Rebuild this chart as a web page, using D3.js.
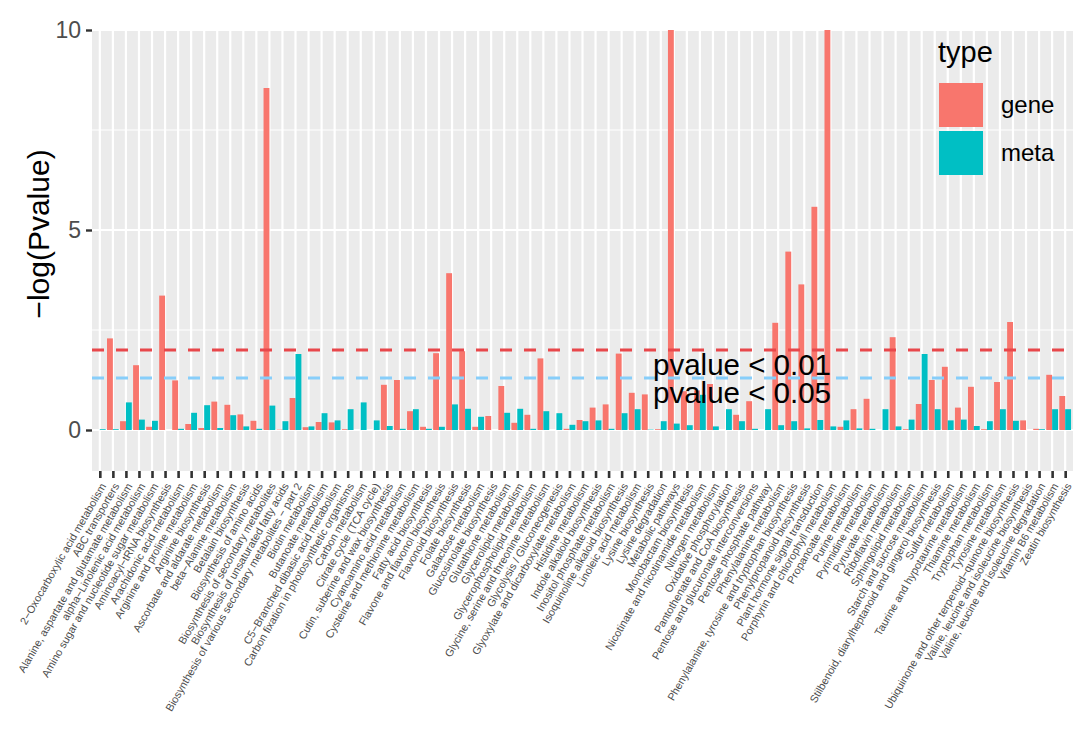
<!DOCTYPE html>
<html>
<head>
<meta charset="utf-8">
<script src="https://cdn.jsdelivr.net/npm/d3@7"></script>
<style>
  body { margin: 0; background: #fff; }
  svg { display: block; font-family: "Liberation Sans", Arial, sans-serif; }
</style>
</head>
<body>
<svg id="chart" width="1084" height="738"></svg>
<script>
var categories = ["2−Oxocarboxylic acid metabolism", "ABC transporters",
    "Alanine, aspartate and glutamate metabolism", "alpha−Linolenic acid metabolism",
    "Amino sugar and nucleotide sugar metabolism", "Aminoacyl−tRNA biosynthesis",
    "Arachidonic acid metabolism", "Arginine and proline metabolism", "Arginine biosynthesis",
    "Ascorbate and aldarate metabolism", "beta−Alanine metabolism", "Betalain biosynthesis",
    "Biosynthesis of amino acids", "Biosynthesis of secondary metabolites",
    "Biosynthesis of unsaturated fatty acids", "Biosynthesis of various secondary metabolites − part 2",
    "Biotin metabolism", "Butanoate metabolism", "C5−Branched dibasic acid metabolism",
    "Carbon fixation in photosynthetic organisms", "Carbon metabolism", "Citrate cycle (TCA cycle)",
    "Cutin, suberine and wax biosynthesis", "Cyanoamino acid metabolism",
    "Cysteine and methionine metabolism", "Fatty acid biosynthesis", "Flavone and flavonol biosynthesis",
    "Flavonoid biosynthesis", "Folate biosynthesis", "Galactose metabolism", "Glucosinolate biosynthesis",
    "Glutathione metabolism", "Glycerolipid metabolism", "Glycerophospholipid metabolism",
    "Glycine, serine and threonine metabolism", "Glycolysis / Gluconeogenesis",
    "Glyoxylate and dicarboxylate metabolism", "Histidine metabolism", "Indole alkaloid biosynthesis",
    "Inositol phosphate metabolism", "Isoquinoline alkaloid biosynthesis", "Linoleic acid metabolism",
    "Lysine biosynthesis", "Lysine degradation", "Metabolic pathways", "Monobactam biosynthesis",
    "Nicotinate and nicotinamide metabolism", "Nitrogen metabolism", "Oxidative phosphorylation",
    "Pantothenate and CoA biosynthesis", "Pentose and glucuronate interconversions",
    "Pentose phosphate pathway", "Phenylalanine metabolism",
    "Phenylalanine, tyrosine and tryptophan biosynthesis", "Phenylpropanoid biosynthesis",
    "Plant hormone signal transduction", "Porphyrin and chlorophyll metabolism", "Propanoate metabolism",
    "Purine metabolism", "Pyrimidine metabolism", "Pyruvate metabolism", "Riboflavin metabolism",
    "Sphingolipid metabolism", "Starch and sucrose metabolism",
    "Stilbenoid, diarylheptanoid and gingerol biosynthesis", "Sulfur metabolism",
    "Taurine and hypotaurine metabolism", "Thiamine metabolism", "Tryptophan metabolism",
    "Tyrosine metabolism", "Ubiquinone and other terpenoid−quinone biosynthesis",
    "Valine, leucine and isoleucine biosynthesis", "Valine, leucine and isoleucine degradation",
    "Vitamin B6 metabolism", "Zeatin biosynthesis"];

var geneValues = [0, 2.29, 0.22, 1.62, 0.08, 3.36, 1.24, 0.15, 0.05, 0.71,
                  0.63, 0.39, 0.23, 8.55, 0.01, 0.80, 0.07, 0.20, 0.19, 0.02,
                  0, 0, 1.13, 1.25, 0.47, 0.08, 1.92, 3.92, 1.97, 0.08,
                  0.35, 1.10, 0.18, 0.38, 1.79, 0, 0.03, 0.25, 0.56, 0.64,
                  1.91, 0.93, 0.89, 0.02, 10, 0.97, 0.99, 1.15, 0, 0.38,
                  0.72, 0, 2.68, 4.46, 3.64, 5.58, 10, 0.08, 0.52, 0.78,
                  0, 2.32, 0.02, 0.65, 1.25, 1.58, 0.56, 1.08, 0.02, 1.20,
                  2.70, 0.24, 0.03, 1.38, 0.85];

var metaValues = [0.02, 0.02, 0.69, 0.26, 0.23, 0, 0.03, 0.43, 0.62, 0.05,
                  0.37, 0.09, 0.03, 0.61, 0.22, 1.90, 0.09, 0.42, 0.24, 0.52,
                  0.69, 0.24, 0.10, 0.03, 0.52, 0.03, 0.08, 0.64, 0.53, 0.33,
                  0, 0.43, 0.53, 0.03, 0.47, 0.42, 0.13, 0.22, 0.24, 0.03,
                  0.42, 0.52, 0.01, 0.22, 0.16, 0.12, 0.88, 0.09, 0.52, 0.22,
                  0.03, 0.52, 0.12, 0.22, 0.04, 0.25, 0.09, 0.24, 0.04, 0.03,
                  0.52, 0.09, 0.26, 1.90, 0.52, 0.24, 0.26, 0.10, 0.22, 0.52,
                  0.23, 0, 0.02, 0.52, 0.52];

var types = ["gene", "meta"];
var yTicks = [0, 5, 10];
var cutoffs = [{value: 2, label: "pvalue < 0.01", color: "#E8474B"},
               {value: 1.3, label: "pvalue < 0.05", color: "#87CEFA"}];

const typeColors = ["#F8766D", "#00BFC4"];

function drawChart() {
    var svg = d3.select("#chart"),
        panel = {left: 92, right: 1073, top: 30, bottom: 471};

    var xScale = d3.scalePoint().domain(categories)
            .range([panel.left, panel.right]).padding(0.6),
        yScale = d3.scaleLinear().domain([-1.025, 10]).range([panel.bottom, panel.top]);

    var step = xScale.step(),
        barW = step * 0.45;

    // panel background and grid
    svg.append("rect")
        .attr("x", panel.left).attr("y", panel.top)
        .attr("width", panel.right - panel.left).attr("height", panel.bottom - panel.top)
        .attr("fill", "#EBEBEB");

    var grid = svg.append("g");
    grid.selectAll(".minor")
        .data([2.5, 7.5])
        .enter().append("line")
        .attr("x1", panel.left).attr("x2", panel.right)
        .attr("y1", function(d) { return yScale(d); })
        .attr("y2", function(d) { return yScale(d); })
        .attr("stroke", "#fff").attr("stroke-width", 1.1);
    grid.selectAll(".major")
        .data(yTicks)
        .enter().append("line")
        .attr("x1", panel.left).attr("x2", panel.right)
        .attr("y1", function(d) { return yScale(d); })
        .attr("y2", function(d) { return yScale(d); })
        .attr("stroke", "#fff").attr("stroke-width", 2.2);
    grid.selectAll(".vline")
        .data(categories)
        .enter().append("line")
        .attr("x1", function(d) { return xScale(d); })
        .attr("x2", function(d) { return xScale(d); })
        .attr("y1", panel.top).attr("y2", panel.bottom)
        .attr("stroke", "#fff").attr("stroke-width", 2.2);

    // bars, gene left and meta right of each category
    var rows = [];
    categories.forEach(function(c, i) {
        rows.push({cat: c, type: 0, value: geneValues[i]});
        rows.push({cat: c, type: 1, value: metaValues[i]});
    });

    svg.append("g").selectAll("rect")
        .data(rows.filter(function(d) { return d.value > 0; }))
        .enter().append("rect")
        .attr("x", function(d) { return xScale(d.cat) - barW + d.type * barW; })
        .attr("y", function(d) { return yScale(d.value); })
        .attr("width", barW)
        .attr("height", function(d) { return yScale(0) - yScale(d.value); })
        .attr("fill", function(d) { return typeColors[d.type]; });

    // cutoff lines
    svg.append("g").selectAll("line")
        .data(cutoffs)
        .enter().append("line")
        .attr("x1", panel.left).attr("x2", panel.right)
        .attr("y1", function(d) { return yScale(d.value); })
        .attr("y2", function(d) { return yScale(d.value); })
        .attr("stroke", function(d) { return d.color; })
        .attr("stroke-width", 3)
        .attr("stroke-dasharray", "12,12");

    var labelX = xScale(categories[49]) + 3;
    svg.append("g").selectAll("text")
        .data(cutoffs)
        .enter().append("text")
        .attr("x", labelX)
        .attr("y", function(d, i) { return yScale([1.65, 0.95][i]) + 10.5; })
        .attr("text-anchor", "middle")
        .attr("font-size", "29.5px")
        .attr("fill", "#000")
        .text(function(d) { return d.label; });

    // y axis
    var yAxis = svg.append("g")
        .attr("transform", "translate(" + panel.left + ",0)")
        .call(d3.axisLeft(yScale).tickValues(yTicks).tickSize(6).tickPadding(5));
    yAxis.select(".domain").remove();
    yAxis.selectAll("line").attr("stroke", "#333").attr("stroke-width", 2.4);
    yAxis.selectAll("text").attr("font-size", "23px").attr("fill", "#4D4D4D")
        .attr("font-family", "Liberation Sans, Arial, sans-serif");

    svg.append("text")
        .attr("transform", "translate(49,234) rotate(-90)")
        .attr("text-anchor", "middle")
        .attr("font-size", "30px")
        .attr("fill", "#000")
        .text("−log(Pvalue)");

    // x axis
    var xAxis = svg.append("g")
        .attr("transform", "translate(0," + panel.bottom + ")")
        .call(d3.axisBottom(xScale).tickSize(7).tickFormat(""));
    xAxis.select(".domain").remove();
    xAxis.selectAll("line").attr("stroke", "#333").attr("stroke-width", 2.6);

    svg.append("g").selectAll("text")
        .data(categories)
        .enter().append("text")
        .attr("transform", function(d) {
            return "translate(" + xScale(d) + "," + (panel.bottom + 11) + ") rotate(-60)";
        })
        .attr("dy", "0.72em")
        .attr("text-anchor", "end")
        .attr("font-size", "10.8px")
        .attr("fill", "#4D4D4D")
        .text(function(d) { return d; });

    // legend sits inside the panel, no background
    var legend = svg.append("g").attr("transform", "translate(939,0)");
    legend.append("text")
        .attr("x", -1).attr("y", 62)
        .attr("font-size", "29px")
        .attr("fill", "#000")
        .text("type");
    var keys = legend.selectAll(".key")
        .data(types)
        .enter().append("g")
        .attr("transform", function(d, i) { return "translate(0," + (83 + i * 48) + ")"; });
    keys.append("rect")
        .attr("width", 44).attr("height", 44)
        .attr("fill", function(d, i) { return typeColors[i]; });
    keys.append("text")
        .attr("x", 62).attr("y", 30)
        .attr("font-size", "24px")
        .attr("fill", "#000")
        .text(function(d) { return d; });
}

drawChart();
</script>
</body>
</html>
